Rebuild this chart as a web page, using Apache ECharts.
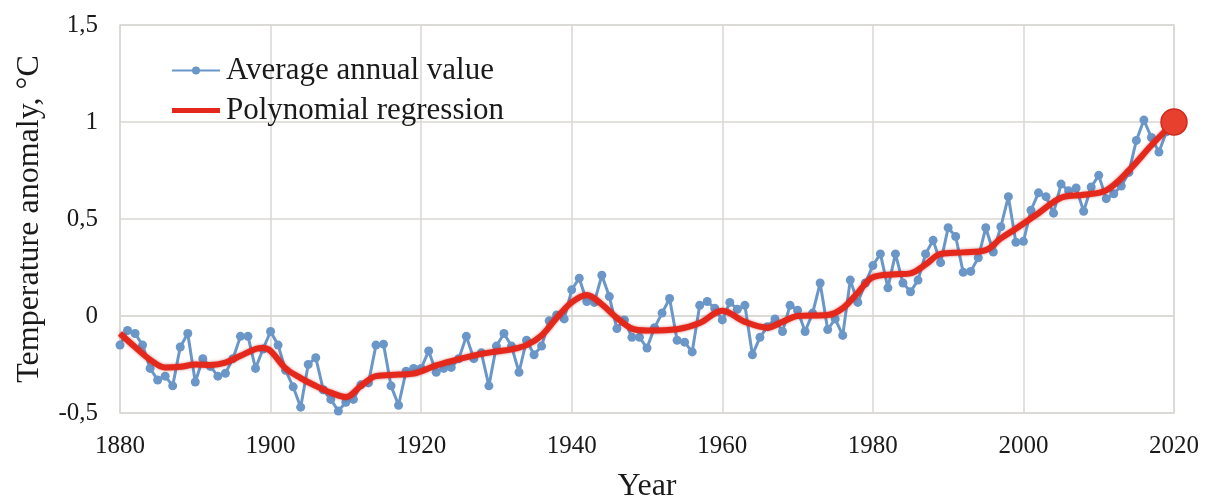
<!DOCTYPE html>
<html>
<head>
<meta charset="utf-8">
<script src="https://cdn.jsdelivr.net/npm/echarts@6/dist/echarts.min.js"></script>
<style>
html,body{margin:0;padding:0;background:#fff;}
#chart{width:1210px;height:499px;}
</style>
</head>
<body>
<div id="chart"></div>
<script>
// Years of the annual series
const years = [];
for (let y = 1880; y <= 2019; y++) years.push(y);

// Average annual temperature anomaly, °C
const annualValues = [
  -0.15,-0.075,-0.09,-0.15,-0.27,-0.33,-0.31,-0.36,-0.16,-0.09,
  -0.34,-0.22,-0.26,-0.31,-0.295,-0.22,-0.105,-0.105,-0.27,-0.17,
  -0.08,-0.15,-0.28,-0.365,-0.47,-0.25,-0.215,-0.38,-0.43,-0.49,
  -0.445,-0.43,-0.355,-0.345,-0.15,-0.145,-0.36,-0.46,-0.285,-0.27,
  -0.27,-0.18,-0.29,-0.27,-0.265,-0.22,-0.105,-0.22,-0.19,-0.36,
  -0.155,-0.09,-0.155,-0.29,-0.125,-0.2,-0.155,-0.025,0.005,-0.015,
  0.135,0.195,0.075,0.07,0.21,0.1,-0.065,-0.02,-0.11,-0.11,
  -0.165,-0.06,0.015,0.09,-0.125,-0.135,-0.185,0.055,0.075,0.04,
  -0.02,0.07,0.035,0.055,-0.2,-0.11,-0.055,-0.015,-0.08,0.055,
  0.03,-0.08,0.015,0.17,-0.07,-0.015,-0.1,0.185,0.07,0.17,
  0.26,0.32,0.145,0.32,0.17,0.125,0.185,0.32,0.39,0.275,
  0.455,0.41,0.225,0.23,0.3,0.455,0.33,0.46,0.615,0.38,
  0.385,0.545,0.635,0.615,0.53,0.68,0.645,0.66,0.54,0.665,
  0.725,0.605,0.63,0.67,0.74,0.905,1.01,0.92,0.845,0.95
];

// Polynomial regression curve, read at selected years
const regressionYears = [
  1880,1882,1884,1886,1888,1890,1892,1894,1896,1898,1899,1900,
  1902,1904,1906,1908,1910,1912,1914,1917,1919,1922,1925,1928,
  1930,1932,1934,1936,1938,1940,1942,1944,1946,1948,1950,1954,
  1957,1960,1963,1966,1968,1970,1974,1976,1978,1980,1983,1985,
  1987,1989,1992,1995,1997,1999,2002,2005,2008,2011,2014,2017,2020
];
const regressionValues = [
  -0.09,-0.16,-0.225,-0.265,-0.262,-0.25,-0.252,-0.24,-0.205,-0.17,-0.165,-0.18,
  -0.27,-0.32,-0.36,-0.395,-0.418,-0.36,-0.31,-0.302,-0.297,-0.255,-0.222,-0.195,
  -0.183,-0.172,-0.15,-0.1,-0.01,0.07,0.108,0.06,-0.01,-0.065,-0.075,-0.068,
  -0.036,0.027,-0.03,-0.06,-0.03,0,0.005,0.04,0.12,0.2,0.215,0.22,
  0.265,0.32,0.328,0.34,0.4,0.45,0.53,0.61,0.625,0.648,0.75,0.88,1.0
];

// Highlighted final point
const highlightYear = [2020];
const highlightValue = [1.0];

// Axis ticks
const xTicks = [1880,1900,1920,1940,1960,1980,2000,2020];
const yTicks = [-0.5,0,0.5,1,1.5];

const FONT = '"Liberation Serif","DejaVu Serif",serif';
const GRID_COLOR = '#dad7d3';
const BLUE = '#6b97c8';
const RED = '#e5281c';

const chart = echarts.init(document.getElementById('chart'), null, {renderer:'canvas'});
chart.setOption({
  animation:false,
  backgroundColor:'#fff',
  grid:{left:120, right:36, top:25, bottom:86, outerBoundsMode:'none', containLabel:false,
        show:true, borderColor:GRID_COLOR, borderWidth:1.5},
  legend:{
    orient:'vertical', left:166, top:50, itemGap:9, itemWidth:48, itemHeight:10,
    textStyle:{fontFamily:FONT, fontSize:31, color:'#1a1a1a', padding:[0,0,0,1]},
    data:[
      {name:'Average annual value'},
      {name:'Polynomial regression',
       icon:'path://M0,0L0.01,0M0,2.5L48,2.5L48,7.5L0,7.5ZM48,10L47.99,10',
       itemStyle:{color:RED}}
    ]
  },
  xAxis:{
    type:'value', min:xTicks[0], max:xTicks[xTicks.length-1], interval:20,
    name:'Year', nameLocation:'middle', nameGap:58,
    nameTextStyle:{fontFamily:FONT, fontSize:32, color:'#1a1a1a'},
    axisLine:{show:true, lineStyle:{color:GRID_COLOR, width:1.5}},
    axisTick:{show:false},
    axisLabel:{fontFamily:FONT, fontSize:25, color:'#1a1a1a', margin:21,
      formatter:v=>String(v)},
    splitLine:{show:true, lineStyle:{color:GRID_COLOR, width:1.5}}
  },
  yAxis:{
    type:'value', min:yTicks[0], max:yTicks[yTicks.length-1], interval:0.5,
    name:'Temperature anomaly, °C', nameLocation:'middle', nameGap:74, nameRotate:90,
    nameTextStyle:{fontFamily:FONT, fontSize:32, color:'#1a1a1a'},
    axisLine:{show:false},
    axisTick:{show:false},
    axisLabel:{fontFamily:FONT, fontSize:25, color:'#1a1a1a', margin:22,
      formatter:v=>String(v).replace('.',',')},
    splitLine:{show:true, lineStyle:{color:GRID_COLOR, width:1.5}}
  },
  series:[
    {
      name:'Average annual value', type:'line',
      data:years.map((y,i)=>[y, annualValues[i]]),
      symbol:'circle', symbolSize:9, showAllSymbol:true,
      lineStyle:{color:BLUE, width:3},
      itemStyle:{color:BLUE},
      z:2
    },
    {
      name:'Polynomial regression', type:'line',
      data:regressionYears.map((y,i)=>[y, regressionValues[i]]),
      symbol:'none', smooth:0.35,
      lineStyle:{color:RED, width:6, shadowColor:'rgba(170,0,0,0.55)', shadowBlur:3},
      itemStyle:{color:RED},
      z:3
    },
    {
      name:'highlight', type:'scatter',
      data:highlightYear.map((y,i)=>[y, highlightValue[i]]),
      symbol:'circle', symbolSize:26,
      itemStyle:{color:'#e8402f', borderColor:'#cf2a1b', borderWidth:1.5, opacity:1},
      z:4
    }
  ]
});
</script>
</body>
</html>
